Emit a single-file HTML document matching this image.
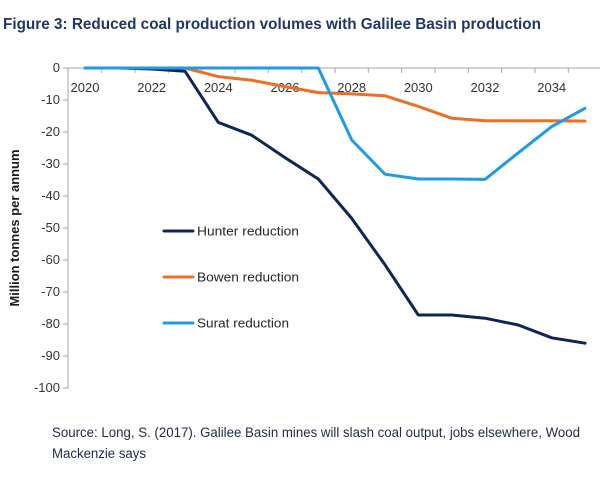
<!DOCTYPE html>
<html>
<head>
<meta charset="utf-8">
<style>
  html, body { margin: 0; padding: 0; background: #ffffff; }
  svg { display: block; }
  text { font-family: "Liberation Sans", "DejaVu Sans", sans-serif; }
</style>
</head>
<body>
<svg width="600" height="478" viewBox="0 0 600 478" xmlns="http://www.w3.org/2000/svg">
  <rect width="600" height="478" fill="#ffffff"/>

  <!-- Title -->
  <text x="3" y="29" font-size="15.5" font-weight="bold" fill="#1f3864" textLength="538" lengthAdjust="spacingAndGlyphs">Figure 3: Reduced coal production volumes with Galilee Basin production</text>

  <!-- Y axis -->
  <line x1="68" y1="68" x2="68" y2="388" stroke="#a6a6a6" stroke-width="1"/>
  <g stroke="#a6a6a6" stroke-width="1">
    <line x1="63" y1="68" x2="68" y2="68"/>
    <line x1="63" y1="100" x2="68" y2="100"/>
    <line x1="63" y1="132" x2="68" y2="132"/>
    <line x1="63" y1="164" x2="68" y2="164"/>
    <line x1="63" y1="196" x2="68" y2="196"/>
    <line x1="63" y1="228" x2="68" y2="228"/>
    <line x1="63" y1="260" x2="68" y2="260"/>
    <line x1="63" y1="292" x2="68" y2="292"/>
    <line x1="63" y1="324" x2="68" y2="324"/>
    <line x1="63" y1="356" x2="68" y2="356"/>
    <line x1="63" y1="388" x2="68" y2="388"/>
  </g>
  <g font-size="13" fill="#333333" text-anchor="end">
    <text x="60" y="72">0</text>
    <text x="60" y="104">-10</text>
    <text x="60" y="136">-20</text>
    <text x="60" y="168">-30</text>
    <text x="60" y="200">-40</text>
    <text x="60" y="232">-50</text>
    <text x="60" y="264">-60</text>
    <text x="60" y="296">-70</text>
    <text x="60" y="328">-80</text>
    <text x="60" y="360">-90</text>
    <text x="60" y="392">-100</text>
  </g>

  <!-- Y axis title -->
  <text transform="translate(19,228) rotate(-90)" text-anchor="middle" font-size="12.5" font-weight="bold" fill="#1a1a1a" textLength="157" lengthAdjust="spacingAndGlyphs">Million tonnes per annum</text>

  <!-- X axis -->
  <line x1="68" y1="68" x2="600" y2="68" stroke="#a6a6a6" stroke-width="1"/>
  <g stroke="#a6a6a6" stroke-width="1">
    <line x1="101.7" y1="68" x2="101.7" y2="73"/>
    <line x1="135" y1="68" x2="135" y2="73"/>
    <line x1="168.3" y1="68" x2="168.3" y2="73"/>
    <line x1="201.7" y1="68" x2="201.7" y2="73"/>
    <line x1="235" y1="68" x2="235" y2="73"/>
    <line x1="268.3" y1="68" x2="268.3" y2="73"/>
    <line x1="301.7" y1="68" x2="301.7" y2="73"/>
    <line x1="335" y1="68" x2="335" y2="73"/>
    <line x1="368.3" y1="68" x2="368.3" y2="73"/>
    <line x1="401.7" y1="68" x2="401.7" y2="73"/>
    <line x1="435" y1="68" x2="435" y2="73"/>
    <line x1="468.3" y1="68" x2="468.3" y2="73"/>
    <line x1="501.7" y1="68" x2="501.7" y2="73"/>
    <line x1="535" y1="68" x2="535" y2="73"/>
    <line x1="568.3" y1="68" x2="568.3" y2="73"/>
  </g>
  <g font-size="13" fill="#333333" text-anchor="middle">
    <text x="85" y="92">2020</text>
    <text x="151.7" y="92">2022</text>
    <text x="218.3" y="92">2024</text>
    <text x="285" y="92">2026</text>
    <text x="351.7" y="92">2028</text>
    <text x="418.3" y="92">2030</text>
    <text x="485" y="92">2032</text>
    <text x="551.7" y="92">2034</text>
  </g>

  <!-- Series -->
  <g fill="none" stroke-width="3" stroke-linejoin="round" stroke-linecap="round">
    <polyline stroke="#0f2557" points="85,68 118.3,68 151.7,69 185,71.2 218.3,122.4 251.7,135.2 285,157.6 318.3,179 351.7,218.4 385,264.8 418.3,315 451.7,315 485,318.2 518.3,325 551.7,337.8 585,343.2"/>
    <polyline stroke="#ec6f24" points="185,68 218.3,76.6 251.7,80.2 285,86.6 318.3,92.6 351.7,93.9 385,95.8 418.3,106.4 451.7,118.2 485,120.8 518.3,120.8 551.7,120.8 585,121.1"/>
    <polyline stroke="#1e9be3" points="85,68 118.3,68 151.7,68 185,68 218.3,68 251.7,68 285,68 318.3,68 351.7,140 385,174.2 418.3,179 451.7,179 485,179.4 518.3,152.8 551.7,126.6 585,108.3"/>
  </g>

  <!-- Legend -->
  <g stroke-width="3" stroke-linecap="round">
    <line x1="164" y1="231" x2="193" y2="231" stroke="#0f2557"/>
    <line x1="164" y1="277" x2="193" y2="277" stroke="#ec6f24"/>
    <line x1="164" y1="323" x2="193" y2="323" stroke="#1e9be3"/>
  </g>
  <g font-size="13" fill="#262626">
    <text x="197" y="235.5" textLength="102" lengthAdjust="spacingAndGlyphs">Hunter reduction</text>
    <text x="197" y="281.5" textLength="102" lengthAdjust="spacingAndGlyphs">Bowen reduction</text>
    <text x="197" y="327.5" textLength="92" lengthAdjust="spacingAndGlyphs">Surat reduction</text>
  </g>

  <!-- Source -->
  <g font-size="13.5" fill="#1f2a44">
    <text x="52" y="437" textLength="528" lengthAdjust="spacingAndGlyphs">Source: Long, S. (2017). Galilee Basin mines will slash coal output, jobs elsewhere, Wood</text>
    <text x="52" y="458" textLength="94" lengthAdjust="spacingAndGlyphs">Mackenzie says</text>
  </g>
</svg>
</body>
</html>
